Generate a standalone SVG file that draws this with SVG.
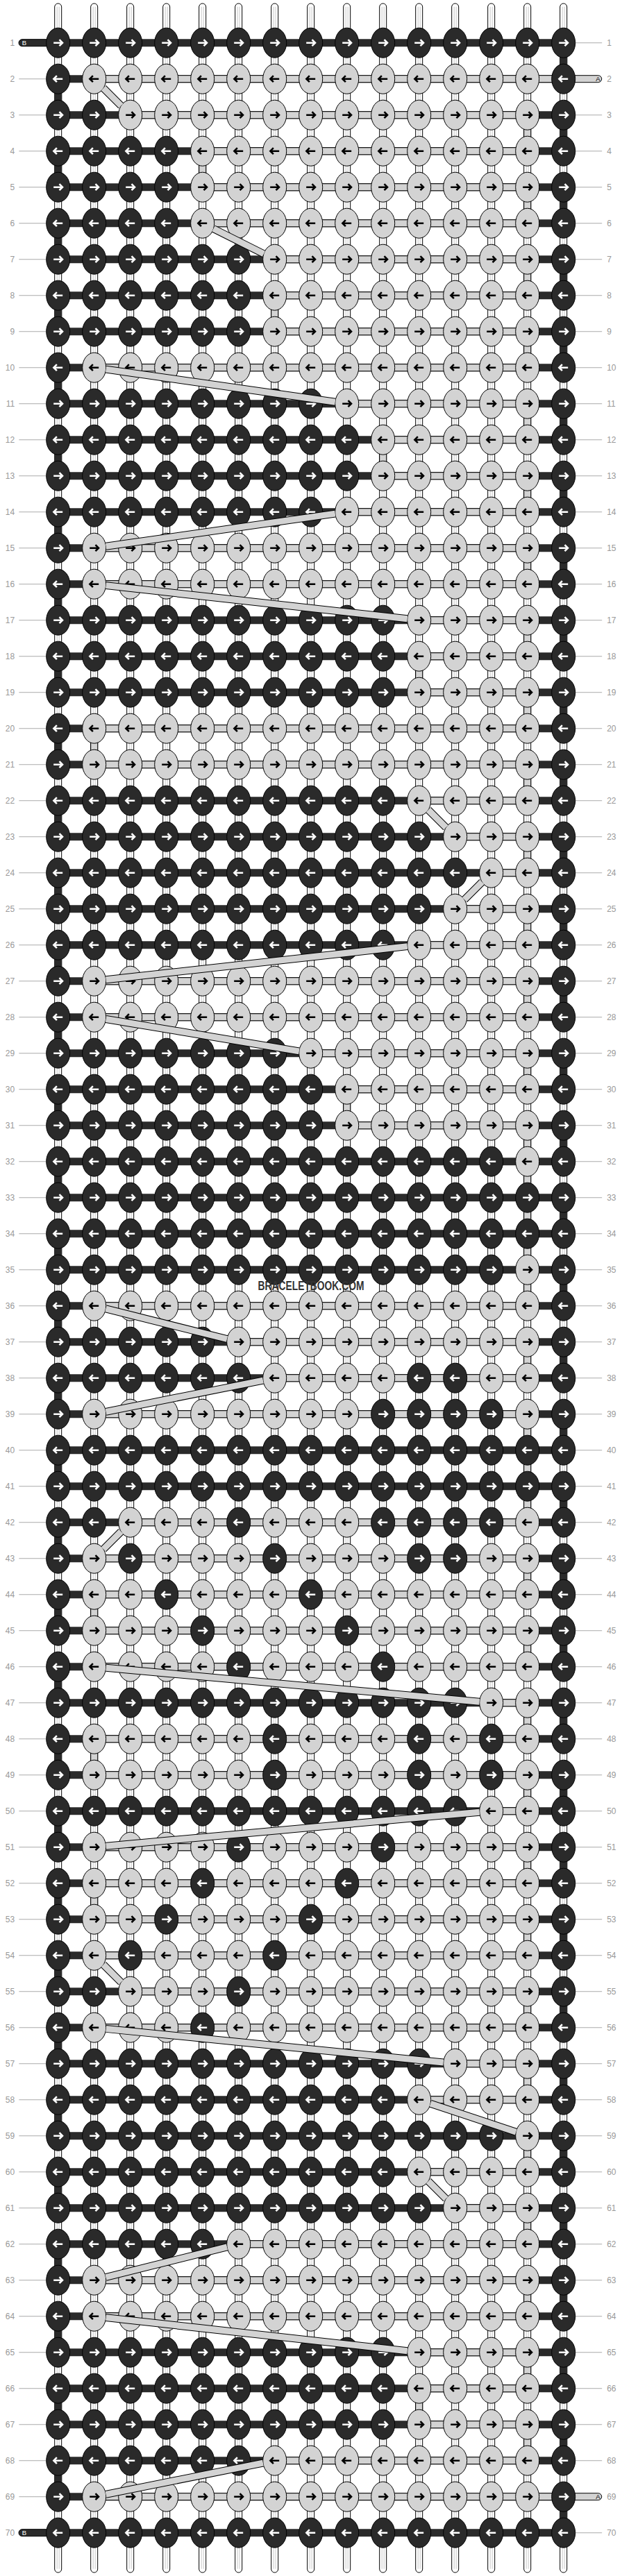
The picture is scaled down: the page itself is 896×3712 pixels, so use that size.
<svg xmlns="http://www.w3.org/2000/svg" width="896" height="3712" viewBox="0 0 896 3712">
<style>
.k{stroke:#000;stroke-width:1}
.dk{fill:#2a2a2a}
.lk{fill:#d3d3d3}
.aw{fill:none;stroke:#fff;stroke-width:2.6}
.ab{fill:none;stroke:#000;stroke-width:2.6}
.lab{font-family:"Liberation Sans",Arial,sans-serif;font-size:12px;fill:#999}
.cap{font-family:"Liberation Sans",Arial,sans-serif;font-size:9.5px}
.ob{fill:none;stroke:#000;stroke-width:11}
.ol{fill:none;stroke:#d3d3d3;stroke-width:9}
</style>
<defs>
<g id="w"><rect x="-5" y="-4.7" width="10" height="3702" rx="5" fill="#fff" stroke="#000" stroke-width="1"/><path d="M-1.5 0V3692M1.5 0V3692" stroke="#c8c8c8" stroke-width="1" fill="none"/></g>
<g id="p"><ellipse rx="17" ry="21.5" class="k dk"/><path d="M-6.5 0H5M1.8-4.5L6.3 0L1.8 4.5" class="aw"/></g>
<g id="q"><ellipse rx="17" ry="21.5" class="k dk"/><path d="M6.5 0H-5M-1.8-4.5L-6.3 0L-1.8 4.5" class="aw"/></g>
<g id="s"><ellipse rx="17" ry="21.5" class="k lk"/><path d="M-6.5 0H5M1.8-4.5L6.3 0L1.8 4.5" class="ab"/></g>
<g id="t"><ellipse rx="17" ry="21.5" class="k lk"/><path d="M6.5 0H-5M-1.8-4.5L-6.3 0L-1.8 4.5" class="ab"/></g>
<path id="hl" d="M156 156H728M260 208H728M260 260H728M260 312H728M364 364H728M364 416H728M364 468H728M104 520H728M468 572H728M520 624H728M520 676H728M468 728H728M104 780H728M104 832H728M572 884H728M572 936H728M572 988H728M104 1040H728M104 1092H728M572 1144H728M624 1196H728M676 1248H728M624 1300H728M572 1352H728M104 1404H728M104 1456H728M416 1508H728M468 1560H728M468 1612H728M104 1872H728M312 1924H728M364 1976H728M104 2028H728M156 2184H728M104 2236H728M104 2288H728M104 2340H728M104 2392H728M676 2444H728M104 2496H728M104 2548H728M676 2600H728M104 2652H728M104 2704H728M104 2756H728M104 2808H728M156 2860H728M104 2912H728M624 2964H728M572 3016H728M572 3120H728M624 3172H728M312 3224H728M104 3276H728M104 3328H728M572 3380H728M572 3432H728M572 3484H728M364 3536H728"/>
<path id="vl" d="M728 172v20M728 276v20M728 380v20M728 484v20M728 588v20M728 692v20M728 796v20M728 900v20M728 1004v20M728 1108v20M728 1212v20M728 1316v20M728 1420v20M728 1524v20M728 1628v20M728 1680v20M728 1732v20M728 1784v20M728 1836v20M728 1940v20M728 2044v20M728 2096v20M728 2148v20M728 2252v20M728 2356v20M728 2460v20M728 2564v20M728 2668v20M728 2772v20M728 2876v20M728 2980v20M728 3084v20M728 3188v20M728 3292v20M728 3396v20M728 3500v20M260 224v20M364 432v20M520 640v20M572 952v20M104 1056v20M468 1576v20M104 2304v20M104 2512v20M104 2720v20M572 3448v20"/>
<path id="dg" d="M117.3 117.3L142.7 142.7M275.8 319.9L348.2 356.1M120.9 522.4L451.1 569.6M451.1 730.4L120.9 777.6M120.9 833.9L555.1 882.1M585.3 1157.3L610.7 1182.7M662.7 1261.3L637.3 1286.7M555.1 1353.9L120.9 1402.1M120.9 1458.8L399.2 1505.2M120.7 1876.2L295.3 1919.8M347.2 1979.4L120.8 2024.6M142.7 2197.3L117.3 2222.7M121 2393.5L659 2442.5M659 2601.5L121 2650.5M117.3 2821.3L142.7 2846.7M121 2913.7L607 2962.3M588.4 3021.5L711.6 3062.5M585.3 3133.3L610.7 3158.7M295.3 3228.2L120.7 3271.8M120.9 3329.9L555.1 3378.1M347.2 3539.4L120.8 3584.6"/>
</defs>
<rect width="896" height="3712" fill="#fff"/>
<g transform="translate(31.7 9.7)">
<g id="labels">
<path d="M15.15 51.5V3640.5M816 51.5V3640.5" stroke="#aaa" stroke-width="39" stroke-dasharray="1 51" fill="none"/>
<g class="lab" text-anchor="end" transform="translate(0 4.3)">
<text x="-10.5" y="52">1</text><text x="-10.5" y="104">2</text><text x="-10.5" y="156">3</text><text x="-10.5" y="208">4</text><text x="-10.5" y="260">5</text><text x="-10.5" y="312">6</text><text x="-10.5" y="364">7</text><text x="-10.5" y="416">8</text><text x="-10.5" y="468">9</text><text x="-10.5" y="520">10</text><text x="-10.5" y="572">11</text><text x="-10.5" y="624">12</text><text x="-10.5" y="676">13</text><text x="-10.5" y="728">14</text><text x="-10.5" y="780">15</text><text x="-10.5" y="832">16</text><text x="-10.5" y="884">17</text><text x="-10.5" y="936">18</text><text x="-10.5" y="988">19</text><text x="-10.5" y="1040">20</text><text x="-10.5" y="1092">21</text><text x="-10.5" y="1144">22</text><text x="-10.5" y="1196">23</text><text x="-10.5" y="1248">24</text><text x="-10.5" y="1300">25</text><text x="-10.5" y="1352">26</text><text x="-10.5" y="1404">27</text><text x="-10.5" y="1456">28</text><text x="-10.5" y="1508">29</text><text x="-10.5" y="1560">30</text><text x="-10.5" y="1612">31</text><text x="-10.5" y="1664">32</text><text x="-10.5" y="1716">33</text><text x="-10.5" y="1768">34</text><text x="-10.5" y="1820">35</text><text x="-10.5" y="1872">36</text><text x="-10.5" y="1924">37</text><text x="-10.5" y="1976">38</text><text x="-10.5" y="2028">39</text><text x="-10.5" y="2080">40</text><text x="-10.5" y="2132">41</text><text x="-10.5" y="2184">42</text><text x="-10.5" y="2236">43</text><text x="-10.5" y="2288">44</text><text x="-10.5" y="2340">45</text><text x="-10.5" y="2392">46</text><text x="-10.5" y="2444">47</text><text x="-10.5" y="2496">48</text><text x="-10.5" y="2548">49</text><text x="-10.5" y="2600">50</text><text x="-10.5" y="2652">51</text><text x="-10.5" y="2704">52</text><text x="-10.5" y="2756">53</text><text x="-10.5" y="2808">54</text><text x="-10.5" y="2860">55</text><text x="-10.5" y="2912">56</text><text x="-10.5" y="2964">57</text><text x="-10.5" y="3016">58</text><text x="-10.5" y="3068">59</text><text x="-10.5" y="3120">60</text><text x="-10.5" y="3172">61</text><text x="-10.5" y="3224">62</text><text x="-10.5" y="3276">63</text><text x="-10.5" y="3328">64</text><text x="-10.5" y="3380">65</text><text x="-10.5" y="3432">66</text><text x="-10.5" y="3484">67</text><text x="-10.5" y="3536">68</text><text x="-10.5" y="3588">69</text><text x="-10.5" y="3640">70</text>
</g>
<g class="lab" transform="translate(0 4.3)">
<text x="842.5" y="52">1</text><text x="842.5" y="104">2</text><text x="842.5" y="156">3</text><text x="842.5" y="208">4</text><text x="842.5" y="260">5</text><text x="842.5" y="312">6</text><text x="842.5" y="364">7</text><text x="842.5" y="416">8</text><text x="842.5" y="468">9</text><text x="842.5" y="520">10</text><text x="842.5" y="572">11</text><text x="842.5" y="624">12</text><text x="842.5" y="676">13</text><text x="842.5" y="728">14</text><text x="842.5" y="780">15</text><text x="842.5" y="832">16</text><text x="842.5" y="884">17</text><text x="842.5" y="936">18</text><text x="842.5" y="988">19</text><text x="842.5" y="1040">20</text><text x="842.5" y="1092">21</text><text x="842.5" y="1144">22</text><text x="842.5" y="1196">23</text><text x="842.5" y="1248">24</text><text x="842.5" y="1300">25</text><text x="842.5" y="1352">26</text><text x="842.5" y="1404">27</text><text x="842.5" y="1456">28</text><text x="842.5" y="1508">29</text><text x="842.5" y="1560">30</text><text x="842.5" y="1612">31</text><text x="842.5" y="1664">32</text><text x="842.5" y="1716">33</text><text x="842.5" y="1768">34</text><text x="842.5" y="1820">35</text><text x="842.5" y="1872">36</text><text x="842.5" y="1924">37</text><text x="842.5" y="1976">38</text><text x="842.5" y="2028">39</text><text x="842.5" y="2080">40</text><text x="842.5" y="2132">41</text><text x="842.5" y="2184">42</text><text x="842.5" y="2236">43</text><text x="842.5" y="2288">44</text><text x="842.5" y="2340">45</text><text x="842.5" y="2392">46</text><text x="842.5" y="2444">47</text><text x="842.5" y="2496">48</text><text x="842.5" y="2548">49</text><text x="842.5" y="2600">50</text><text x="842.5" y="2652">51</text><text x="842.5" y="2704">52</text><text x="842.5" y="2756">53</text><text x="842.5" y="2808">54</text><text x="842.5" y="2860">55</text><text x="842.5" y="2912">56</text><text x="842.5" y="2964">57</text><text x="842.5" y="3016">58</text><text x="842.5" y="3068">59</text><text x="842.5" y="3120">60</text><text x="842.5" y="3172">61</text><text x="842.5" y="3224">62</text><text x="842.5" y="3276">63</text><text x="842.5" y="3328">64</text><text x="842.5" y="3380">65</text><text x="842.5" y="3432">66</text><text x="842.5" y="3484">67</text><text x="842.5" y="3536">68</text><text x="842.5" y="3588">69</text><text x="842.5" y="3640">70</text>
</g>
</g>
<g id="warp">
<use href="#w" x="52"/><use href="#w" x="104"/><use href="#w" x="156"/><use href="#w" x="208"/><use href="#w" x="260"/><use href="#w" x="312"/><use href="#w" x="364"/><use href="#w" x="416"/><use href="#w" x="468"/><use href="#w" x="520"/><use href="#w" x="572"/><use href="#w" x="624"/><use href="#w" x="676"/><use href="#w" x="728"/><use href="#w" x="780"/>
</g>
<g id="connectors">
<path d="M416 46.5V3645.5" stroke="#2a2a2a" stroke-width="728" stroke-dasharray="11 41" fill="none"/>
<path d="M780 52V3640M52 104V3588" stroke="#2a2a2a" stroke-width="11" stroke-dasharray="52 52" fill="none"/>
<use href="#vl" class="ob"/><use href="#vl" class="ol"/>
<use href="#hl" class="ob"/><use href="#hl" class="ol"/>
<rect x="104" y="99" width="731" height="10" rx="5" class="k lk"/>
<rect x="104" y="3583" width="731" height="10" rx="5" class="k lk"/>
<rect x="-4.7" y="47" width="70" height="10" rx="5" class="k dk"/>
<rect x="-4.7" y="3635" width="70" height="10" rx="5" class="k dk"/>
<text class="cap" x="833" y="107.4" text-anchor="end" fill="#000">A</text>
<text class="cap" x="833" y="3591.4" text-anchor="end" fill="#000">A</text>
<text class="cap" x="0" y="55.4" fill="#fff">B</text>
<text class="cap" x="0" y="3643.4" fill="#fff">B</text>
</g>
<g id="r1" transform="translate(0 52)"><use href="#p" x="52"/><use href="#p" x="104"/><use href="#p" x="156"/><use href="#p" x="208"/><use href="#p" x="260"/><use href="#p" x="312"/><use href="#p" x="364"/><use href="#p" x="416"/><use href="#p" x="468"/><use href="#p" x="520"/><use href="#p" x="572"/><use href="#p" x="624"/><use href="#p" x="676"/><use href="#p" x="728"/><use href="#p" x="780"/></g>
<g id="r2" transform="translate(0 104)"><use href="#q" x="52"/><use href="#t" x="104"/><use href="#t" x="156"/><use href="#t" x="208"/><use href="#t" x="260"/><use href="#t" x="312"/><use href="#t" x="364"/><use href="#t" x="416"/><use href="#t" x="468"/><use href="#t" x="520"/><use href="#t" x="572"/><use href="#t" x="624"/><use href="#t" x="676"/><use href="#t" x="728"/><use href="#q" x="780"/></g>
<g id="r3" transform="translate(0 156)"><use href="#p" x="52"/><use href="#p" x="104"/><use href="#s" x="156"/><use href="#s" x="208"/><use href="#s" x="260"/><use href="#s" x="312"/><use href="#s" x="364"/><use href="#s" x="416"/><use href="#s" x="468"/><use href="#s" x="520"/><use href="#s" x="572"/><use href="#s" x="624"/><use href="#s" x="676"/><use href="#s" x="728"/><use href="#p" x="780"/></g>
<g id="r4" transform="translate(0 208)"><use href="#q" x="52"/><use href="#q" x="104"/><use href="#q" x="156"/><use href="#q" x="208"/><use href="#t" x="260"/><use href="#t" x="312"/><use href="#t" x="364"/><use href="#t" x="416"/><use href="#t" x="468"/><use href="#t" x="520"/><use href="#t" x="572"/><use href="#t" x="624"/><use href="#t" x="676"/><use href="#t" x="728"/><use href="#q" x="780"/></g>
<g id="r5" transform="translate(0 260)"><use href="#p" x="52"/><use href="#p" x="104"/><use href="#p" x="156"/><use href="#p" x="208"/><use href="#s" x="260"/><use href="#s" x="312"/><use href="#s" x="364"/><use href="#s" x="416"/><use href="#s" x="468"/><use href="#s" x="520"/><use href="#s" x="572"/><use href="#s" x="624"/><use href="#s" x="676"/><use href="#s" x="728"/><use href="#p" x="780"/></g>
<g id="r6" transform="translate(0 312)"><use href="#q" x="52"/><use href="#q" x="104"/><use href="#q" x="156"/><use href="#q" x="208"/><use href="#t" x="260"/><use href="#t" x="312"/><use href="#t" x="364"/><use href="#t" x="416"/><use href="#t" x="468"/><use href="#t" x="520"/><use href="#t" x="572"/><use href="#t" x="624"/><use href="#t" x="676"/><use href="#t" x="728"/><use href="#q" x="780"/></g>
<g id="r7" transform="translate(0 364)"><use href="#p" x="52"/><use href="#p" x="104"/><use href="#p" x="156"/><use href="#p" x="208"/><use href="#p" x="260"/><use href="#p" x="312"/><use href="#s" x="364"/><use href="#s" x="416"/><use href="#s" x="468"/><use href="#s" x="520"/><use href="#s" x="572"/><use href="#s" x="624"/><use href="#s" x="676"/><use href="#s" x="728"/><use href="#p" x="780"/></g>
<g id="r8" transform="translate(0 416)"><use href="#q" x="52"/><use href="#q" x="104"/><use href="#q" x="156"/><use href="#q" x="208"/><use href="#q" x="260"/><use href="#q" x="312"/><use href="#t" x="364"/><use href="#t" x="416"/><use href="#t" x="468"/><use href="#t" x="520"/><use href="#t" x="572"/><use href="#t" x="624"/><use href="#t" x="676"/><use href="#t" x="728"/><use href="#q" x="780"/></g>
<g id="r9" transform="translate(0 468)"><use href="#p" x="52"/><use href="#p" x="104"/><use href="#p" x="156"/><use href="#p" x="208"/><use href="#p" x="260"/><use href="#p" x="312"/><use href="#s" x="364"/><use href="#s" x="416"/><use href="#s" x="468"/><use href="#s" x="520"/><use href="#s" x="572"/><use href="#s" x="624"/><use href="#s" x="676"/><use href="#s" x="728"/><use href="#p" x="780"/></g>
<g id="r10" transform="translate(0 520)"><use href="#q" x="52"/><use href="#t" x="104"/><use href="#t" x="156"/><use href="#t" x="208"/><use href="#t" x="260"/><use href="#t" x="312"/><use href="#t" x="364"/><use href="#t" x="416"/><use href="#t" x="468"/><use href="#t" x="520"/><use href="#t" x="572"/><use href="#t" x="624"/><use href="#t" x="676"/><use href="#t" x="728"/><use href="#q" x="780"/></g>
<g id="r11" transform="translate(0 572)"><use href="#p" x="52"/><use href="#p" x="104"/><use href="#p" x="156"/><use href="#p" x="208"/><use href="#p" x="260"/><use href="#p" x="312"/><use href="#p" x="364"/><use href="#p" x="416"/><use href="#s" x="468"/><use href="#s" x="520"/><use href="#s" x="572"/><use href="#s" x="624"/><use href="#s" x="676"/><use href="#s" x="728"/><use href="#p" x="780"/></g>
<g id="r12" transform="translate(0 624)"><use href="#q" x="52"/><use href="#q" x="104"/><use href="#q" x="156"/><use href="#q" x="208"/><use href="#q" x="260"/><use href="#q" x="312"/><use href="#q" x="364"/><use href="#q" x="416"/><use href="#q" x="468"/><use href="#t" x="520"/><use href="#t" x="572"/><use href="#t" x="624"/><use href="#t" x="676"/><use href="#t" x="728"/><use href="#q" x="780"/></g>
<g id="r13" transform="translate(0 676)"><use href="#p" x="52"/><use href="#p" x="104"/><use href="#p" x="156"/><use href="#p" x="208"/><use href="#p" x="260"/><use href="#p" x="312"/><use href="#p" x="364"/><use href="#p" x="416"/><use href="#p" x="468"/><use href="#s" x="520"/><use href="#s" x="572"/><use href="#s" x="624"/><use href="#s" x="676"/><use href="#s" x="728"/><use href="#p" x="780"/></g>
<g id="r14" transform="translate(0 728)"><use href="#q" x="52"/><use href="#q" x="104"/><use href="#q" x="156"/><use href="#q" x="208"/><use href="#q" x="260"/><use href="#q" x="312"/><use href="#q" x="364"/><use href="#q" x="416"/><use href="#t" x="468"/><use href="#t" x="520"/><use href="#t" x="572"/><use href="#t" x="624"/><use href="#t" x="676"/><use href="#t" x="728"/><use href="#q" x="780"/></g>
<g id="r15" transform="translate(0 780)"><use href="#p" x="52"/><use href="#s" x="104"/><use href="#s" x="156"/><use href="#s" x="208"/><use href="#s" x="260"/><use href="#s" x="312"/><use href="#s" x="364"/><use href="#s" x="416"/><use href="#s" x="468"/><use href="#s" x="520"/><use href="#s" x="572"/><use href="#s" x="624"/><use href="#s" x="676"/><use href="#s" x="728"/><use href="#p" x="780"/></g>
<g id="r16" transform="translate(0 832)"><use href="#q" x="52"/><use href="#t" x="104"/><use href="#t" x="156"/><use href="#t" x="208"/><use href="#t" x="260"/><use href="#t" x="312"/><use href="#t" x="364"/><use href="#t" x="416"/><use href="#t" x="468"/><use href="#t" x="520"/><use href="#t" x="572"/><use href="#t" x="624"/><use href="#t" x="676"/><use href="#t" x="728"/><use href="#q" x="780"/></g>
<g id="r17" transform="translate(0 884)"><use href="#p" x="52"/><use href="#p" x="104"/><use href="#p" x="156"/><use href="#p" x="208"/><use href="#p" x="260"/><use href="#p" x="312"/><use href="#p" x="364"/><use href="#p" x="416"/><use href="#p" x="468"/><use href="#p" x="520"/><use href="#s" x="572"/><use href="#s" x="624"/><use href="#s" x="676"/><use href="#s" x="728"/><use href="#p" x="780"/></g>
<g id="r18" transform="translate(0 936)"><use href="#q" x="52"/><use href="#q" x="104"/><use href="#q" x="156"/><use href="#q" x="208"/><use href="#q" x="260"/><use href="#q" x="312"/><use href="#q" x="364"/><use href="#q" x="416"/><use href="#q" x="468"/><use href="#q" x="520"/><use href="#t" x="572"/><use href="#t" x="624"/><use href="#t" x="676"/><use href="#t" x="728"/><use href="#q" x="780"/></g>
<g id="r19" transform="translate(0 988)"><use href="#p" x="52"/><use href="#p" x="104"/><use href="#p" x="156"/><use href="#p" x="208"/><use href="#p" x="260"/><use href="#p" x="312"/><use href="#p" x="364"/><use href="#p" x="416"/><use href="#p" x="468"/><use href="#p" x="520"/><use href="#s" x="572"/><use href="#s" x="624"/><use href="#s" x="676"/><use href="#s" x="728"/><use href="#p" x="780"/></g>
<g id="r20" transform="translate(0 1040)"><use href="#q" x="52"/><use href="#t" x="104"/><use href="#t" x="156"/><use href="#t" x="208"/><use href="#t" x="260"/><use href="#t" x="312"/><use href="#t" x="364"/><use href="#t" x="416"/><use href="#t" x="468"/><use href="#t" x="520"/><use href="#t" x="572"/><use href="#t" x="624"/><use href="#t" x="676"/><use href="#t" x="728"/><use href="#q" x="780"/></g>
<g id="r21" transform="translate(0 1092)"><use href="#p" x="52"/><use href="#s" x="104"/><use href="#s" x="156"/><use href="#s" x="208"/><use href="#s" x="260"/><use href="#s" x="312"/><use href="#s" x="364"/><use href="#s" x="416"/><use href="#s" x="468"/><use href="#s" x="520"/><use href="#s" x="572"/><use href="#s" x="624"/><use href="#s" x="676"/><use href="#s" x="728"/><use href="#p" x="780"/></g>
<g id="r22" transform="translate(0 1144)"><use href="#q" x="52"/><use href="#q" x="104"/><use href="#q" x="156"/><use href="#q" x="208"/><use href="#q" x="260"/><use href="#q" x="312"/><use href="#q" x="364"/><use href="#q" x="416"/><use href="#q" x="468"/><use href="#q" x="520"/><use href="#t" x="572"/><use href="#t" x="624"/><use href="#t" x="676"/><use href="#t" x="728"/><use href="#q" x="780"/></g>
<g id="r23" transform="translate(0 1196)"><use href="#p" x="52"/><use href="#p" x="104"/><use href="#p" x="156"/><use href="#p" x="208"/><use href="#p" x="260"/><use href="#p" x="312"/><use href="#p" x="364"/><use href="#p" x="416"/><use href="#p" x="468"/><use href="#p" x="520"/><use href="#p" x="572"/><use href="#s" x="624"/><use href="#s" x="676"/><use href="#s" x="728"/><use href="#p" x="780"/></g>
<g id="r24" transform="translate(0 1248)"><use href="#q" x="52"/><use href="#q" x="104"/><use href="#q" x="156"/><use href="#q" x="208"/><use href="#q" x="260"/><use href="#q" x="312"/><use href="#q" x="364"/><use href="#q" x="416"/><use href="#q" x="468"/><use href="#q" x="520"/><use href="#q" x="572"/><use href="#q" x="624"/><use href="#t" x="676"/><use href="#t" x="728"/><use href="#q" x="780"/></g>
<g id="r25" transform="translate(0 1300)"><use href="#p" x="52"/><use href="#p" x="104"/><use href="#p" x="156"/><use href="#p" x="208"/><use href="#p" x="260"/><use href="#p" x="312"/><use href="#p" x="364"/><use href="#p" x="416"/><use href="#p" x="468"/><use href="#p" x="520"/><use href="#p" x="572"/><use href="#s" x="624"/><use href="#s" x="676"/><use href="#s" x="728"/><use href="#p" x="780"/></g>
<g id="r26" transform="translate(0 1352)"><use href="#q" x="52"/><use href="#q" x="104"/><use href="#q" x="156"/><use href="#q" x="208"/><use href="#q" x="260"/><use href="#q" x="312"/><use href="#q" x="364"/><use href="#q" x="416"/><use href="#q" x="468"/><use href="#q" x="520"/><use href="#t" x="572"/><use href="#t" x="624"/><use href="#t" x="676"/><use href="#t" x="728"/><use href="#q" x="780"/></g>
<g id="r27" transform="translate(0 1404)"><use href="#p" x="52"/><use href="#s" x="104"/><use href="#s" x="156"/><use href="#s" x="208"/><use href="#s" x="260"/><use href="#s" x="312"/><use href="#s" x="364"/><use href="#s" x="416"/><use href="#s" x="468"/><use href="#s" x="520"/><use href="#s" x="572"/><use href="#s" x="624"/><use href="#s" x="676"/><use href="#s" x="728"/><use href="#p" x="780"/></g>
<g id="r28" transform="translate(0 1456)"><use href="#q" x="52"/><use href="#t" x="104"/><use href="#t" x="156"/><use href="#t" x="208"/><use href="#t" x="260"/><use href="#t" x="312"/><use href="#t" x="364"/><use href="#t" x="416"/><use href="#t" x="468"/><use href="#t" x="520"/><use href="#t" x="572"/><use href="#t" x="624"/><use href="#t" x="676"/><use href="#t" x="728"/><use href="#q" x="780"/></g>
<g id="r29" transform="translate(0 1508)"><use href="#p" x="52"/><use href="#p" x="104"/><use href="#p" x="156"/><use href="#p" x="208"/><use href="#p" x="260"/><use href="#p" x="312"/><use href="#p" x="364"/><use href="#s" x="416"/><use href="#s" x="468"/><use href="#s" x="520"/><use href="#s" x="572"/><use href="#s" x="624"/><use href="#s" x="676"/><use href="#s" x="728"/><use href="#p" x="780"/></g>
<g id="r30" transform="translate(0 1560)"><use href="#q" x="52"/><use href="#q" x="104"/><use href="#q" x="156"/><use href="#q" x="208"/><use href="#q" x="260"/><use href="#q" x="312"/><use href="#q" x="364"/><use href="#q" x="416"/><use href="#t" x="468"/><use href="#t" x="520"/><use href="#t" x="572"/><use href="#t" x="624"/><use href="#t" x="676"/><use href="#t" x="728"/><use href="#q" x="780"/></g>
<g id="r31" transform="translate(0 1612)"><use href="#p" x="52"/><use href="#p" x="104"/><use href="#p" x="156"/><use href="#p" x="208"/><use href="#p" x="260"/><use href="#p" x="312"/><use href="#p" x="364"/><use href="#p" x="416"/><use href="#s" x="468"/><use href="#s" x="520"/><use href="#s" x="572"/><use href="#s" x="624"/><use href="#s" x="676"/><use href="#s" x="728"/><use href="#p" x="780"/></g>
<g id="r32" transform="translate(0 1664)"><use href="#q" x="52"/><use href="#q" x="104"/><use href="#q" x="156"/><use href="#q" x="208"/><use href="#q" x="260"/><use href="#q" x="312"/><use href="#q" x="364"/><use href="#q" x="416"/><use href="#q" x="468"/><use href="#q" x="520"/><use href="#q" x="572"/><use href="#q" x="624"/><use href="#q" x="676"/><use href="#t" x="728"/><use href="#q" x="780"/></g>
<g id="r33" transform="translate(0 1716)"><use href="#p" x="52"/><use href="#p" x="104"/><use href="#p" x="156"/><use href="#p" x="208"/><use href="#p" x="260"/><use href="#p" x="312"/><use href="#p" x="364"/><use href="#p" x="416"/><use href="#p" x="468"/><use href="#p" x="520"/><use href="#p" x="572"/><use href="#p" x="624"/><use href="#p" x="676"/><use href="#p" x="728"/><use href="#p" x="780"/></g>
<g id="r34" transform="translate(0 1768)"><use href="#q" x="52"/><use href="#q" x="104"/><use href="#q" x="156"/><use href="#q" x="208"/><use href="#q" x="260"/><use href="#q" x="312"/><use href="#q" x="364"/><use href="#q" x="416"/><use href="#q" x="468"/><use href="#q" x="520"/><use href="#q" x="572"/><use href="#q" x="624"/><use href="#q" x="676"/><use href="#q" x="728"/><use href="#q" x="780"/></g>
<g id="r35" transform="translate(0 1820)"><use href="#p" x="52"/><use href="#p" x="104"/><use href="#p" x="156"/><use href="#p" x="208"/><use href="#p" x="260"/><use href="#p" x="312"/><use href="#p" x="364"/><use href="#p" x="416"/><use href="#p" x="468"/><use href="#p" x="520"/><use href="#p" x="572"/><use href="#p" x="624"/><use href="#p" x="676"/><use href="#s" x="728"/><use href="#p" x="780"/></g>
<g id="r36" transform="translate(0 1872)"><use href="#q" x="52"/><use href="#t" x="104"/><use href="#t" x="156"/><use href="#t" x="208"/><use href="#t" x="260"/><use href="#t" x="312"/><use href="#t" x="364"/><use href="#t" x="416"/><use href="#t" x="468"/><use href="#t" x="520"/><use href="#t" x="572"/><use href="#t" x="624"/><use href="#t" x="676"/><use href="#t" x="728"/><use href="#q" x="780"/></g>
<g id="r37" transform="translate(0 1924)"><use href="#p" x="52"/><use href="#p" x="104"/><use href="#p" x="156"/><use href="#p" x="208"/><use href="#p" x="260"/><use href="#s" x="312"/><use href="#s" x="364"/><use href="#s" x="416"/><use href="#s" x="468"/><use href="#s" x="520"/><use href="#s" x="572"/><use href="#s" x="624"/><use href="#s" x="676"/><use href="#s" x="728"/><use href="#p" x="780"/></g>
<g id="r38" transform="translate(0 1976)"><use href="#q" x="52"/><use href="#q" x="104"/><use href="#q" x="156"/><use href="#q" x="208"/><use href="#q" x="260"/><use href="#q" x="312"/><use href="#t" x="364"/><use href="#t" x="416"/><use href="#t" x="468"/><use href="#t" x="520"/><use href="#q" x="572"/><use href="#q" x="624"/><use href="#t" x="676"/><use href="#t" x="728"/><use href="#q" x="780"/></g>
<g id="r39" transform="translate(0 2028)"><use href="#p" x="52"/><use href="#s" x="104"/><use href="#s" x="156"/><use href="#s" x="208"/><use href="#s" x="260"/><use href="#s" x="312"/><use href="#s" x="364"/><use href="#s" x="416"/><use href="#s" x="468"/><use href="#p" x="520"/><use href="#p" x="572"/><use href="#p" x="624"/><use href="#p" x="676"/><use href="#s" x="728"/><use href="#p" x="780"/></g>
<g id="r40" transform="translate(0 2080)"><use href="#q" x="52"/><use href="#q" x="104"/><use href="#q" x="156"/><use href="#q" x="208"/><use href="#q" x="260"/><use href="#q" x="312"/><use href="#q" x="364"/><use href="#q" x="416"/><use href="#q" x="468"/><use href="#q" x="520"/><use href="#q" x="572"/><use href="#q" x="624"/><use href="#q" x="676"/><use href="#q" x="728"/><use href="#q" x="780"/></g>
<g id="r41" transform="translate(0 2132)"><use href="#p" x="52"/><use href="#p" x="104"/><use href="#p" x="156"/><use href="#p" x="208"/><use href="#p" x="260"/><use href="#p" x="312"/><use href="#p" x="364"/><use href="#p" x="416"/><use href="#p" x="468"/><use href="#p" x="520"/><use href="#p" x="572"/><use href="#p" x="624"/><use href="#p" x="676"/><use href="#p" x="728"/><use href="#p" x="780"/></g>
<g id="r42" transform="translate(0 2184)"><use href="#q" x="52"/><use href="#q" x="104"/><use href="#t" x="156"/><use href="#t" x="208"/><use href="#t" x="260"/><use href="#q" x="312"/><use href="#t" x="364"/><use href="#t" x="416"/><use href="#t" x="468"/><use href="#q" x="520"/><use href="#q" x="572"/><use href="#q" x="624"/><use href="#q" x="676"/><use href="#t" x="728"/><use href="#q" x="780"/></g>
<g id="r43" transform="translate(0 2236)"><use href="#p" x="52"/><use href="#s" x="104"/><use href="#p" x="156"/><use href="#s" x="208"/><use href="#s" x="260"/><use href="#s" x="312"/><use href="#p" x="364"/><use href="#s" x="416"/><use href="#s" x="468"/><use href="#s" x="520"/><use href="#p" x="572"/><use href="#p" x="624"/><use href="#s" x="676"/><use href="#s" x="728"/><use href="#p" x="780"/></g>
<g id="r44" transform="translate(0 2288)"><use href="#q" x="52"/><use href="#t" x="104"/><use href="#t" x="156"/><use href="#q" x="208"/><use href="#t" x="260"/><use href="#t" x="312"/><use href="#t" x="364"/><use href="#q" x="416"/><use href="#t" x="468"/><use href="#t" x="520"/><use href="#t" x="572"/><use href="#t" x="624"/><use href="#t" x="676"/><use href="#t" x="728"/><use href="#q" x="780"/></g>
<g id="r45" transform="translate(0 2340)"><use href="#p" x="52"/><use href="#s" x="104"/><use href="#s" x="156"/><use href="#s" x="208"/><use href="#p" x="260"/><use href="#s" x="312"/><use href="#s" x="364"/><use href="#s" x="416"/><use href="#p" x="468"/><use href="#s" x="520"/><use href="#s" x="572"/><use href="#s" x="624"/><use href="#s" x="676"/><use href="#s" x="728"/><use href="#p" x="780"/></g>
<g id="r46" transform="translate(0 2392)"><use href="#q" x="52"/><use href="#t" x="104"/><use href="#t" x="156"/><use href="#t" x="208"/><use href="#t" x="260"/><use href="#q" x="312"/><use href="#t" x="364"/><use href="#t" x="416"/><use href="#t" x="468"/><use href="#q" x="520"/><use href="#t" x="572"/><use href="#t" x="624"/><use href="#t" x="676"/><use href="#t" x="728"/><use href="#q" x="780"/></g>
<g id="r47" transform="translate(0 2444)"><use href="#p" x="52"/><use href="#p" x="104"/><use href="#p" x="156"/><use href="#p" x="208"/><use href="#p" x="260"/><use href="#p" x="312"/><use href="#p" x="364"/><use href="#p" x="416"/><use href="#p" x="468"/><use href="#p" x="520"/><use href="#p" x="572"/><use href="#p" x="624"/><use href="#s" x="676"/><use href="#s" x="728"/><use href="#p" x="780"/></g>
<g id="r48" transform="translate(0 2496)"><use href="#q" x="52"/><use href="#t" x="104"/><use href="#t" x="156"/><use href="#t" x="208"/><use href="#t" x="260"/><use href="#t" x="312"/><use href="#q" x="364"/><use href="#t" x="416"/><use href="#t" x="468"/><use href="#t" x="520"/><use href="#q" x="572"/><use href="#t" x="624"/><use href="#q" x="676"/><use href="#t" x="728"/><use href="#q" x="780"/></g>
<g id="r49" transform="translate(0 2548)"><use href="#p" x="52"/><use href="#s" x="104"/><use href="#s" x="156"/><use href="#s" x="208"/><use href="#s" x="260"/><use href="#s" x="312"/><use href="#p" x="364"/><use href="#s" x="416"/><use href="#s" x="468"/><use href="#s" x="520"/><use href="#p" x="572"/><use href="#s" x="624"/><use href="#p" x="676"/><use href="#s" x="728"/><use href="#p" x="780"/></g>
<g id="r50" transform="translate(0 2600)"><use href="#q" x="52"/><use href="#q" x="104"/><use href="#q" x="156"/><use href="#q" x="208"/><use href="#q" x="260"/><use href="#q" x="312"/><use href="#q" x="364"/><use href="#q" x="416"/><use href="#q" x="468"/><use href="#q" x="520"/><use href="#q" x="572"/><use href="#q" x="624"/><use href="#t" x="676"/><use href="#t" x="728"/><use href="#q" x="780"/></g>
<g id="r51" transform="translate(0 2652)"><use href="#p" x="52"/><use href="#s" x="104"/><use href="#s" x="156"/><use href="#s" x="208"/><use href="#s" x="260"/><use href="#p" x="312"/><use href="#s" x="364"/><use href="#s" x="416"/><use href="#s" x="468"/><use href="#p" x="520"/><use href="#s" x="572"/><use href="#s" x="624"/><use href="#s" x="676"/><use href="#s" x="728"/><use href="#p" x="780"/></g>
<g id="r52" transform="translate(0 2704)"><use href="#q" x="52"/><use href="#t" x="104"/><use href="#t" x="156"/><use href="#t" x="208"/><use href="#q" x="260"/><use href="#t" x="312"/><use href="#t" x="364"/><use href="#t" x="416"/><use href="#q" x="468"/><use href="#t" x="520"/><use href="#t" x="572"/><use href="#t" x="624"/><use href="#t" x="676"/><use href="#t" x="728"/><use href="#q" x="780"/></g>
<g id="r53" transform="translate(0 2756)"><use href="#p" x="52"/><use href="#s" x="104"/><use href="#s" x="156"/><use href="#p" x="208"/><use href="#s" x="260"/><use href="#s" x="312"/><use href="#s" x="364"/><use href="#p" x="416"/><use href="#s" x="468"/><use href="#s" x="520"/><use href="#s" x="572"/><use href="#s" x="624"/><use href="#s" x="676"/><use href="#s" x="728"/><use href="#p" x="780"/></g>
<g id="r54" transform="translate(0 2808)"><use href="#q" x="52"/><use href="#t" x="104"/><use href="#q" x="156"/><use href="#t" x="208"/><use href="#t" x="260"/><use href="#t" x="312"/><use href="#q" x="364"/><use href="#t" x="416"/><use href="#t" x="468"/><use href="#t" x="520"/><use href="#t" x="572"/><use href="#t" x="624"/><use href="#t" x="676"/><use href="#t" x="728"/><use href="#q" x="780"/></g>
<g id="r55" transform="translate(0 2860)"><use href="#p" x="52"/><use href="#p" x="104"/><use href="#s" x="156"/><use href="#s" x="208"/><use href="#s" x="260"/><use href="#p" x="312"/><use href="#s" x="364"/><use href="#s" x="416"/><use href="#s" x="468"/><use href="#s" x="520"/><use href="#s" x="572"/><use href="#s" x="624"/><use href="#s" x="676"/><use href="#s" x="728"/><use href="#p" x="780"/></g>
<g id="r56" transform="translate(0 2912)"><use href="#q" x="52"/><use href="#t" x="104"/><use href="#t" x="156"/><use href="#t" x="208"/><use href="#q" x="260"/><use href="#t" x="312"/><use href="#t" x="364"/><use href="#t" x="416"/><use href="#t" x="468"/><use href="#t" x="520"/><use href="#t" x="572"/><use href="#t" x="624"/><use href="#t" x="676"/><use href="#t" x="728"/><use href="#q" x="780"/></g>
<g id="r57" transform="translate(0 2964)"><use href="#p" x="52"/><use href="#p" x="104"/><use href="#p" x="156"/><use href="#p" x="208"/><use href="#p" x="260"/><use href="#p" x="312"/><use href="#p" x="364"/><use href="#p" x="416"/><use href="#p" x="468"/><use href="#p" x="520"/><use href="#p" x="572"/><use href="#s" x="624"/><use href="#s" x="676"/><use href="#s" x="728"/><use href="#p" x="780"/></g>
<g id="r58" transform="translate(0 3016)"><use href="#q" x="52"/><use href="#q" x="104"/><use href="#q" x="156"/><use href="#q" x="208"/><use href="#q" x="260"/><use href="#q" x="312"/><use href="#q" x="364"/><use href="#q" x="416"/><use href="#q" x="468"/><use href="#q" x="520"/><use href="#t" x="572"/><use href="#t" x="624"/><use href="#t" x="676"/><use href="#t" x="728"/><use href="#q" x="780"/></g>
<g id="r59" transform="translate(0 3068)"><use href="#p" x="52"/><use href="#p" x="104"/><use href="#p" x="156"/><use href="#p" x="208"/><use href="#p" x="260"/><use href="#p" x="312"/><use href="#p" x="364"/><use href="#p" x="416"/><use href="#p" x="468"/><use href="#p" x="520"/><use href="#p" x="572"/><use href="#p" x="624"/><use href="#p" x="676"/><use href="#s" x="728"/><use href="#p" x="780"/></g>
<g id="r60" transform="translate(0 3120)"><use href="#q" x="52"/><use href="#q" x="104"/><use href="#q" x="156"/><use href="#q" x="208"/><use href="#q" x="260"/><use href="#q" x="312"/><use href="#q" x="364"/><use href="#q" x="416"/><use href="#q" x="468"/><use href="#q" x="520"/><use href="#t" x="572"/><use href="#t" x="624"/><use href="#t" x="676"/><use href="#t" x="728"/><use href="#q" x="780"/></g>
<g id="r61" transform="translate(0 3172)"><use href="#p" x="52"/><use href="#p" x="104"/><use href="#p" x="156"/><use href="#p" x="208"/><use href="#p" x="260"/><use href="#p" x="312"/><use href="#p" x="364"/><use href="#p" x="416"/><use href="#p" x="468"/><use href="#p" x="520"/><use href="#p" x="572"/><use href="#s" x="624"/><use href="#s" x="676"/><use href="#s" x="728"/><use href="#p" x="780"/></g>
<g id="r62" transform="translate(0 3224)"><use href="#q" x="52"/><use href="#q" x="104"/><use href="#q" x="156"/><use href="#q" x="208"/><use href="#q" x="260"/><use href="#t" x="312"/><use href="#t" x="364"/><use href="#t" x="416"/><use href="#t" x="468"/><use href="#t" x="520"/><use href="#t" x="572"/><use href="#t" x="624"/><use href="#t" x="676"/><use href="#t" x="728"/><use href="#q" x="780"/></g>
<g id="r63" transform="translate(0 3276)"><use href="#p" x="52"/><use href="#s" x="104"/><use href="#s" x="156"/><use href="#s" x="208"/><use href="#s" x="260"/><use href="#s" x="312"/><use href="#s" x="364"/><use href="#s" x="416"/><use href="#s" x="468"/><use href="#s" x="520"/><use href="#s" x="572"/><use href="#s" x="624"/><use href="#s" x="676"/><use href="#s" x="728"/><use href="#p" x="780"/></g>
<g id="r64" transform="translate(0 3328)"><use href="#q" x="52"/><use href="#t" x="104"/><use href="#t" x="156"/><use href="#t" x="208"/><use href="#t" x="260"/><use href="#t" x="312"/><use href="#t" x="364"/><use href="#t" x="416"/><use href="#t" x="468"/><use href="#t" x="520"/><use href="#t" x="572"/><use href="#t" x="624"/><use href="#t" x="676"/><use href="#t" x="728"/><use href="#q" x="780"/></g>
<g id="r65" transform="translate(0 3380)"><use href="#p" x="52"/><use href="#p" x="104"/><use href="#p" x="156"/><use href="#p" x="208"/><use href="#p" x="260"/><use href="#p" x="312"/><use href="#p" x="364"/><use href="#p" x="416"/><use href="#p" x="468"/><use href="#p" x="520"/><use href="#s" x="572"/><use href="#s" x="624"/><use href="#s" x="676"/><use href="#s" x="728"/><use href="#p" x="780"/></g>
<g id="r66" transform="translate(0 3432)"><use href="#q" x="52"/><use href="#q" x="104"/><use href="#q" x="156"/><use href="#q" x="208"/><use href="#q" x="260"/><use href="#q" x="312"/><use href="#q" x="364"/><use href="#q" x="416"/><use href="#q" x="468"/><use href="#q" x="520"/><use href="#t" x="572"/><use href="#t" x="624"/><use href="#t" x="676"/><use href="#t" x="728"/><use href="#q" x="780"/></g>
<g id="r67" transform="translate(0 3484)"><use href="#p" x="52"/><use href="#p" x="104"/><use href="#p" x="156"/><use href="#p" x="208"/><use href="#p" x="260"/><use href="#p" x="312"/><use href="#p" x="364"/><use href="#p" x="416"/><use href="#p" x="468"/><use href="#p" x="520"/><use href="#s" x="572"/><use href="#s" x="624"/><use href="#s" x="676"/><use href="#s" x="728"/><use href="#p" x="780"/></g>
<g id="r68" transform="translate(0 3536)"><use href="#q" x="52"/><use href="#q" x="104"/><use href="#q" x="156"/><use href="#q" x="208"/><use href="#q" x="260"/><use href="#q" x="312"/><use href="#t" x="364"/><use href="#t" x="416"/><use href="#t" x="468"/><use href="#t" x="520"/><use href="#t" x="572"/><use href="#t" x="624"/><use href="#t" x="676"/><use href="#t" x="728"/><use href="#q" x="780"/></g>
<g id="r69" transform="translate(0 3588)"><use href="#p" x="52"/><use href="#s" x="104"/><use href="#s" x="156"/><use href="#s" x="208"/><use href="#s" x="260"/><use href="#s" x="312"/><use href="#s" x="364"/><use href="#s" x="416"/><use href="#s" x="468"/><use href="#s" x="520"/><use href="#s" x="572"/><use href="#s" x="624"/><use href="#s" x="676"/><use href="#s" x="728"/><use href="#p" x="780"/></g>
<g id="r70" transform="translate(0 3640)"><use href="#q" x="52"/><use href="#q" x="104"/><use href="#q" x="156"/><use href="#q" x="208"/><use href="#q" x="260"/><use href="#q" x="312"/><use href="#q" x="364"/><use href="#q" x="416"/><use href="#q" x="468"/><use href="#q" x="520"/><use href="#q" x="572"/><use href="#q" x="624"/><use href="#q" x="676"/><use href="#q" x="728"/><use href="#q" x="780"/></g>
<g id="diagonals"><use href="#dg" class="ob"/><use href="#dg" class="ol"/></g>
<text x="416.3" y="1849.3" text-anchor="middle" font-family="Liberation Sans, Arial, sans-serif" font-weight="bold" font-size="18" fill="#333" textLength="153" lengthAdjust="spacingAndGlyphs">BRACELETBOOK.COM</text>
</g>
</svg>
